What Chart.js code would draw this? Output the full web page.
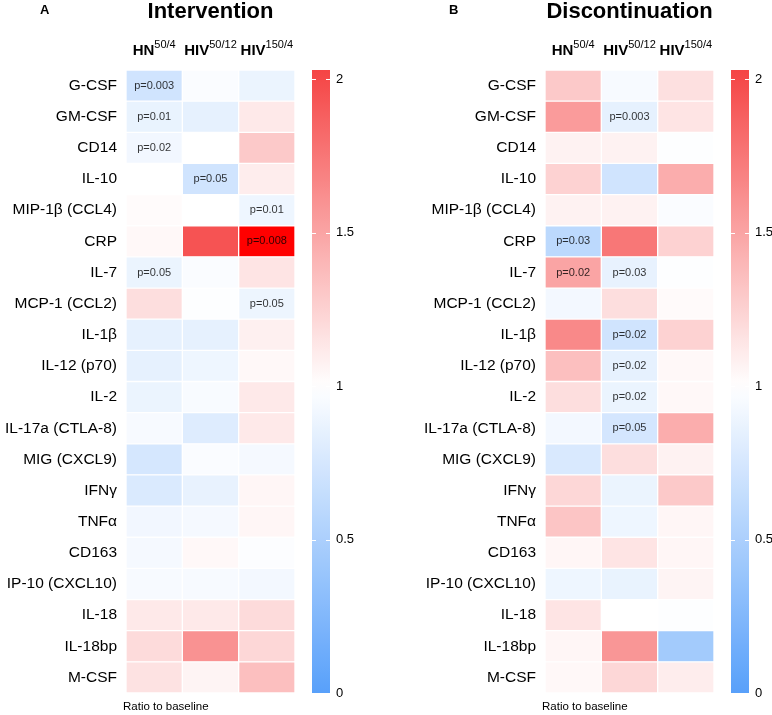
<!DOCTYPE html>
<html>
<head>
<meta charset="utf-8">
<script src="https://cdn.jsdelivr.net/npm/chart.js@4.4.1/dist/chart.umd.min.js"></script>
<style>
  body { margin: 0; background: #fff; }
  #wrap { position: relative; width: 772px; height: 715px; }
  .panel { position: absolute; top: 0; width: 386px; height: 715px; }
</style>
</head>
<body>
<div id="wrap">
  <div class="panel" style="left:0"><canvas id="chartA"></canvas></div>
  <div class="panel" style="left:386px"><canvas id="chartB"></canvas></div>
</div>
<script>
// markers (rows) and groups (columns)
var markers = ['G-CSF', 'GM-CSF', 'CD14', 'IL-10', 'MIP-1\u03b2 (CCL4)', 'CRP', 'IL-7', 'MCP-1 (CCL2)',
  'IL-1\u03b2', 'IL-12 (p70)', 'IL-2', 'IL-17a (CTLA-8)', 'MIG (CXCL9)', 'IFN\u03b3', 'TNF\u03b1',
  'CD163', 'IP-10 (CXCL10)', 'IL-18', 'IL-18bp', 'M-CSF'];
var groupNames = ['HN', 'HIV', 'HIV'];
var groupDoses = ['50/4', '50/12', '150/4'];

// ratio to baseline, intervention
var intHN    = [0.72, 0.87, 0.92, 1.00, 1.02, 1.04, 0.88, 1.18, 0.85, 0.85, 0.88, 0.95, 0.75, 0.78, 0.92, 0.94, 0.95, 1.12, 1.20, 1.16];
var intHIV12 = [0.97, 0.85, 1.00, 0.72, 1.00, 1.95, 0.97, 0.99, 0.85, 0.90, 0.96, 0.80, 0.97, 0.86, 0.94, 1.04, 0.95, 1.12, 1.60, 1.06];
var intHIV150= [0.88, 1.12, 1.30, 1.10, 0.90, 2.50, 1.15, 0.89, 1.08, 1.04, 1.12, 1.12, 0.94, 1.05, 1.05, 0.98, 0.93, 1.20, 1.22, 1.35];
var intP = [
  ['p=0.003', 'p=0.01', 'p=0.02', '', '', '', 'p=0.05', '', '', '', '', '', '', '', '', '', '', '', '', ''],
  ['', '', '', 'p=0.05', '', '', '', '', '', '', '', '', '', '', '', '', '', '', '', ''],
  ['', '', '', '', 'p=0.01', 'p=0.008', '', 'p=0.05', '', '', '', '', '', '', '', '', '', '', '', '']
];

// ratio to baseline, discontinuation
var disHN    = [1.30, 1.55, 1.07, 1.25, 1.07, 0.60, 1.50, 0.93, 1.65, 1.35, 1.18, 0.93, 0.77, 1.22, 1.32, 1.05, 0.90, 1.15, 1.05, 1.04];
var disHIV12 = [0.95, 0.85, 1.07, 0.72, 1.07, 1.75, 0.86, 1.18, 0.72, 0.85, 0.88, 0.74, 1.18, 0.88, 0.90, 1.15, 0.87, 1.00, 1.58, 1.22];
var disHIV150= [1.17, 1.15, 0.99, 1.45, 0.97, 1.25, 0.99, 1.03, 1.25, 1.04, 1.04, 1.45, 1.07, 1.30, 1.05, 1.05, 1.06, 0.99, 0.45, 1.10];
var disP = [
  ['', '', '', '', '', 'p=0.03', 'p=0.02', '', '', '', '', '', '', '', '', '', '', '', '', ''],
  ['', 'p=0.003', '', '', '', '', 'p=0.03', '', 'p=0.02', 'p=0.02', 'p=0.02', 'p=0.05', '', '', '', '', '', '', '', ''],
  ['', '', '', '', '', '', '', '', '', '', '', '', '', '', '', '', '', '', '', '']
];

var colorbarTicks = [0, 0.5, 1, 1.5, 2];
var scaleMax = 2.03;

var lowRGB = [88, 160, 250];
var highRGB = [245, 68, 68];

function ratioColor(v) {
  if (v > scaleMax) return 'rgb(255,0,0)';
  var c = v >= 1 ? highRGB : lowRGB;
  var t = v >= 1 ? (v - 1) / (scaleMax - 1) : (1 - v);
  var r = Math.round(255 + (c[0] - 255) * t);
  var g = Math.round(255 + (c[1] - 255) * t);
  var b = Math.round(255 + (c[2] - 255) * t);
  return 'rgb(' + r + ',' + g + ',' + b + ')';
}

var FONT = "'Liberation Sans', Arial, sans-serif";

var decor = {
  id: 'decor',
  afterDraw: function(chart) {
    var ctx = chart.ctx;
    var area = chart.chartArea;
    var o = chart.options.plugins.decor;
    var xs = chart.scales.x;
    var cx = (area.left + area.right) / 2;
    ctx.save();

    // title + panel letter
    ctx.fillStyle = '#000';
    ctx.textBaseline = 'alphabetic';
    ctx.textAlign = 'center';
    ctx.font = 'bold 22px ' + FONT;
    ctx.fillText(o.title, cx, 18);
    ctx.textAlign = 'left';
    ctx.font = 'bold 13px ' + FONT;
    ctx.fillText(o.letter, o.letterX, 14);

    // column headers with superscript doses
    for (var c = 0; c < groupNames.length; c++) {
      var px = xs.getPixelForValue(c + 0.5);
      ctx.font = 'bold 15px ' + FONT;
      var w1 = ctx.measureText(groupNames[c]).width;
      ctx.font = '11px ' + FONT;
      var w2 = ctx.measureText(groupDoses[c]).width;
      var start = px - (w1 + w2) / 2;
      ctx.textAlign = 'left';
      ctx.font = 'bold 15px ' + FONT;
      ctx.fillText(groupNames[c], start, area.top - 15);
      ctx.font = '11px ' + FONT;
      ctx.fillText(groupDoses[c], start + w1, area.top - 22);
    }

    // p-values
    ctx.font = '11px ' + FONT;
    ctx.textAlign = 'center';
    ctx.textBaseline = 'middle';
    ctx.fillStyle = 'rgba(0,0,0,0.8)';
    chart.data.datasets.forEach(function(ds, di) {
      var meta = chart.getDatasetMeta(di);
      meta.data.forEach(function(bar, i) {
        var txt = o.pvals[di][i];
        if (!txt) return;
        var p = bar.getProps(['x', 'y', 'base'], true);
        ctx.fillText(txt, (p.x + p.base) / 2, p.y);
      });
    });

    // colorbar
    var cb = chart.scales.cb;
    var x0 = area.right + 17, bw = 18;
    var yTop = cb.getPixelForValue(cb.max), yBot = cb.getPixelForValue(0);
    var grad = ctx.createLinearGradient(0, yBot, 0, yTop);
    for (var k = 0; k <= 40; k++) {
      grad.addColorStop(k / 40, ratioColor(cb.max * k / 40));
    }
    ctx.fillStyle = grad;
    ctx.fillRect(x0, yTop, bw, yBot - yTop);
    ctx.strokeStyle = '#fff';
    ctx.lineWidth = 1;
    colorbarTicks.forEach(function(t) {
      var y = Math.round(cb.getPixelForValue(t)) + 0.5;
      ctx.beginPath();
      ctx.moveTo(x0, y); ctx.lineTo(x0 + 4, y);
      ctx.moveTo(x0 + bw - 4, y); ctx.lineTo(x0 + bw, y);
      ctx.stroke();
    });

    // legend caption
    ctx.fillStyle = '#000';
    ctx.textAlign = 'left';
    ctx.textBaseline = 'alphabetic';
    ctx.font = '11.5px ' + FONT;
    ctx.fillText('Ratio to baseline', area.left - 3, 710);
    ctx.restore();
  }
};

function makePanel(id, title, letter, letterX, cols, pvals, leftW, rightW) {
  var datasets = cols.map(function(vals, c) {
    return {
      label: groupNames[c] + ' ' + groupDoses[c],
      data: markers.map(function() { return 1; }),
      ratios: vals,
      backgroundColor: vals.map(ratioColor),
      borderColor: '#fff',
      borderWidth: 1,
      borderSkipped: false,
      categoryPercentage: 1,
      barPercentage: 1,
      stack: 'cells'
    };
  });
  return new Chart(document.getElementById(id), {
    type: 'bar',
    data: { labels: markers, datasets: datasets },
    plugins: [decor],
    options: {
      indexAxis: 'y',
      responsive: true,
      maintainAspectRatio: false,
      animation: false,
      layout: { padding: { top: 70, bottom: 22, left: 0, right: 0 } },
      plugins: {
        legend: { display: false },
        tooltip: {
          callbacks: {
            label: function(item) {
              return item.dataset.label + ': ' + item.dataset.ratios[item.dataIndex];
            }
          }
        },
        decor: { title: title, letter: letter, letterX: letterX, pvals: pvals }
      },
      scales: {
        x: { type: 'linear', stacked: true, min: 0, max: 3, display: false },
        y: {
          type: 'category',
          stacked: true,
          grid: { display: false, drawTicks: false },
          border: { display: false },
          ticks: { color: '#000', padding: 9, font: { family: FONT, size: 15.5 } },
          afterFit: function(scale) { scale.width = leftW; }
        },
        cb: {
          type: 'linear',
          axis: 'y',
          position: 'right',
          offset: false,
          min: 0,
          max: scaleMax,
          afterBuildTicks: function(scale) {
            scale.ticks = colorbarTicks.map(function(v) { return { value: v }; });
          },
          grid: { drawOnChartArea: false, offset: false, drawTicks: true, tickLength: 38, color: 'rgba(0,0,0,0)' },
          border: { display: false },
          ticks: {
            color: '#000', padding: 3, font: { family: FONT, size: 13 },
            callback: function(v) { return String(v); }
          },
          afterFit: function(scale) { scale.width = rightW; }
        }
      }
    }
  });
}

makePanel('chartA', 'Intervention', 'A', 40, [intHN, intHIV12, intHIV150], intP, 126, 91);
makePanel('chartB', 'Discontinuation', 'B', 63, [disHN, disHIV12, disHIV150], disP, 159, 58);
</script>
</body>
</html>
